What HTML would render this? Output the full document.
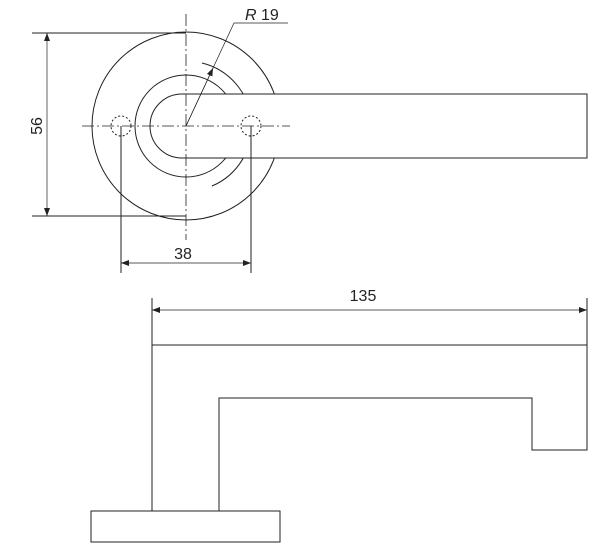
<!DOCTYPE html>
<html><head><style>body{margin:0;background:#fff}svg{display:block}</style></head><body>
<svg width="608" height="560" viewBox="0 0 608 560" xmlns="http://www.w3.org/2000/svg" font-family="Liberation Sans, sans-serif">
<defs>
<marker id="a" markerWidth="8" markerHeight="6" refX="8" refY="3" orient="auto-start-reverse" markerUnits="userSpaceOnUse"><path d="M0,0 L8,3 L0,6z" fill="#222"/></marker>
</defs>
<g fill="none" stroke="#222" stroke-width="1">
<!-- top view -->
<circle cx="186" cy="126" r="94"/>
<circle cx="186" cy="126" r="51"/>
<path d="M202,63 A65,65 0 0 1 212,186"/>
<path d="M587,94 H182 A32,32 0 0 0 182,158 H587 Z" fill="#fff"/>
<circle cx="121" cy="126" r="10" stroke-dasharray="2,2"/>
<circle cx="251" cy="126" r="10" stroke-dasharray="2,2"/>
<path d="M186,14 V240" stroke-dasharray="12,3,2,3" stroke-width="0.8"/>
<path d="M82,126 H290" stroke-dasharray="12,3,2,3" stroke-width="0.8"/>
<path d="M186,126 L234,23 H288" stroke-width="0.7"/>
<path d="M186,126 L213,68" stroke-width="0.7" marker-end="url(#a)"/>
<!-- 56 -->
<path d="M32,33 H186 M32,216 H186" />
<path d="M47,33 V216" stroke-width="0.7" marker-start="url(#a)" marker-end="url(#a)"/>
<!-- 38 -->
<path d="M121,126 V273 M251,126 V273"/>
<path d="M121,263 H251" stroke-width="0.7" marker-start="url(#a)" marker-end="url(#a)"/>
<!-- bottom view -->
<path d="M152,298 V345 M587,298 V375"/>
<path d="M152,310 H587" stroke-width="0.7" marker-start="url(#a)" marker-end="url(#a)"/>
<path d="M152,345 H587 V450 H532 V398 H219 V511 H152 Z"/>
<rect x="91" y="511" width="189" height="31"/>
</g>
<g fill="#222" font-size="16">
<text x="183" y="259" text-anchor="middle">38</text>
<text x="363" y="301" text-anchor="middle">135</text>
<text x="0" y="0" text-anchor="middle" transform="translate(42,126) rotate(-90)">56</text>
<text x="245" y="20"><tspan font-style="italic">R</tspan> 19</text>
</g>
</svg>
</body></html>
